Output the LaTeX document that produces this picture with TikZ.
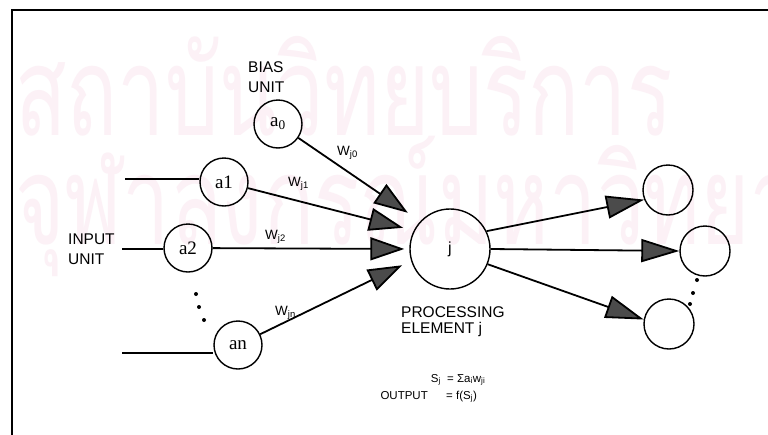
\documentclass[tikz,border=0pt]{standalone}
\usepackage{fontspec}
\setmainfont{Liberation Sans}
\newfontfamily\unitfont{Liberation Serif}
\newfontfamily\thaifont[Script=Thai]{Loma}
\usetikzlibrary{arrows.meta}
\definecolor{wm}{RGB}{252,241,246}
\definecolor{headfill}{RGB}{75,75,75}
\begin{document}
\begin{tikzpicture}[x=1pt,y=-1pt,
  unitc/.style={circle,draw,line width=1.4pt,minimum size=48pt,inner sep=0pt,
    font=\unitfont\fontsize{19}{19}\selectfont},
  lbl/.style={inner sep=0pt,font=\fontsize{15.5}{18}\selectfont},
  wlbl/.style={inner sep=0pt,font=\fontsize{13.5}{15}\selectfont},
  eqlbl/.style={inner sep=0pt,font=\fontsize{11.5}{13}\selectfont},
  wmark/.style={inner sep=0pt,text=wm,font=\thaifont\fontsize{95}{95}\selectfont},
  inarr/.style={line width=1.8pt,-{Triangle[length=34pt,width=23pt,fill=headfill]}},
  outarr/.style={line width=1.8pt,-{Triangle[length=38pt,width=23pt,fill=headfill]}},
  plain/.style={line width=1.5pt},
  dotc/.style={circle,fill=black,inner sep=0pt,minimum size=4pt}]
\clip (0,0) rectangle (768,434);
\fill[white] (0,0) rectangle (768,434);
% watermark
\node[wmark,anchor=base west] (wm1) at (15,135) {\scalebox{0.89}[1.3]{สถาบันวิทยบริการ}};
\node[wmark,anchor=base west] (wm2) at (15,244) {\scalebox{0.89}[1.3]{จุฬาลงกรณ์มหาวิทยาลัย}};
% frame
\draw[line width=2pt] (12,480) -- (12,10) -- (800,10);
% units
\node[unitc] (a0) at (278,124) {a\textsubscript{0}};
\node[unitc] (a1) at (224,182) {a1};
\node[unitc] (a2) at (188,248) {a2};
\node[unitc] (an) at (238,345) {an};
\node[unitc,minimum size=80pt,font=\fontsize{16}{16}\selectfont] (j) at (450,249) {j};
\node[unitc,minimum size=50pt] (o1) at (668,190) {};
\node[unitc,minimum size=50pt] (o2) at (705,251) {};
\node[unitc,minimum size=50pt] (o3) at (669,324) {};
% labels
\node[lbl,anchor=base west] (bias) at (248,72.5) {BIAS};
\node[lbl,anchor=base west] (biasu) at (248,92) {UNIT};
\node[lbl,anchor=base west] (inp) at (68,244.5) {INPUT};
\node[lbl,anchor=base west] (inpu) at (68,264.5) {UNIT};
\node[lbl,anchor=base west] (proc) at (401,317.5) {PROCESSING};
\node[lbl,anchor=base west] (elem) at (401,333) {ELEMENT j};
\node[wlbl,anchor=base west] (w0) at (337,155) {W\textsubscript{j0}};
\node[wlbl,anchor=base west] (w1) at (288,186) {W\textsubscript{j1}};
\node[wlbl,anchor=base west] (w2) at (265,239) {W\textsubscript{j2}};
\node[wlbl,anchor=base west] (wn) at (275,315) {W\textsubscript{jn}};
\node[eqlbl,anchor=base east] (sj) at (441,382) {S\textsubscript{j}};
\node[eqlbl,anchor=base west] (sum) at (447,382) {= Σa\textsubscript{i}w\textsubscript{ji}};
\node[eqlbl,anchor=base east] (out) at (428,399) {OUTPUT};
\node[eqlbl,anchor=base west] (fs) at (446,399) {= f(S\textsubscript{j})};
% input stubs
\coordinate (i1) at (125,179);
\coordinate (i2) at (122,249);
\coordinate (i3) at (122,353);
\draw[plain] (i1) -- (i1 -| a1.west);
\draw[plain] (i2) -- (i2 -| a2.west);
\draw[plain] (i3) -- (i3 -| an.west);
% dots
\node[dotc] (d1) at (196,294) {};
\node[dotc] (d2) at (199,307) {};
\node[dotc] (d3) at (204,320) {};
\node[dotc] (d4) at (697,280) {};
\node[dotc] (d5) at (693,293) {};
\node[dotc] (d6) at (690,304) {};
% arrows in
\draw[inarr,shorten >=15pt] (a0) -- (j.137);
\draw[inarr,shorten >=11pt] (a1) -- (j.153);
\draw[inarr,shorten >=5pt] (a2) -- (j.180);
\draw[inarr,shorten >=10pt] (an) -- (j.197);
% arrows out
\draw[outarr] (j.26) -- (o1.202);
\draw[outarr] (j.0) -- (o2.180);
\draw[outarr] (j.-22) -- (o3.170);
\end{tikzpicture}
\end{document}
